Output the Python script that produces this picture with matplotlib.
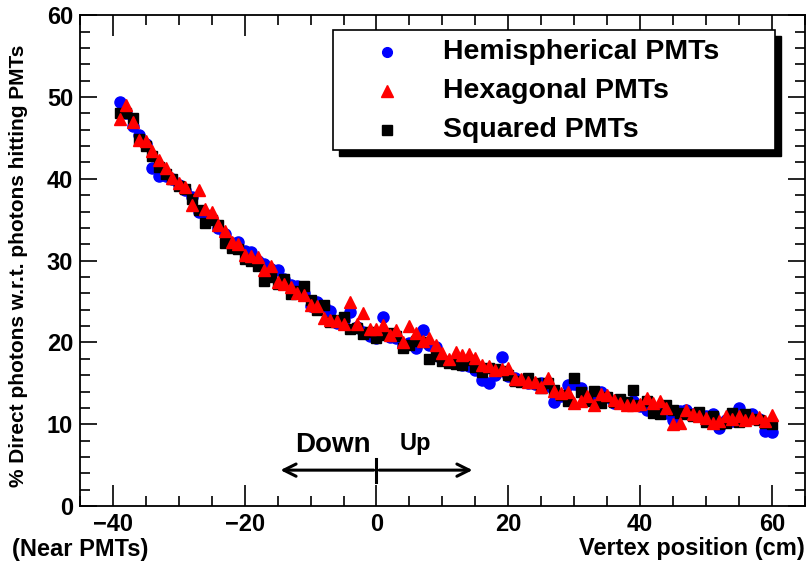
import matplotlib
matplotlib.use("Agg")
import matplotlib.pyplot as plt
from matplotlib.patches import Rectangle
from matplotlib.lines import Line2D
from matplotlib.ticker import MultipleLocator

plt.rcParams['font.family'] = ['Liberation Sans', 'DejaVu Sans']
plt.rcParams['font.weight'] = 'bold'

# vertex positions (cm), one point per cm
positions = list(range(-39, 61))

hemispherical = [
    49.4, 48.0, 46.5, 45.4, 44.2, 41.3, 40.4, 40.3, 40.0, 39.2,
    38.6, 37.8, 36.0, 35.7, 35.1, 34.0, 33.3, 32.1, 32.3, 31.2,
    31.0, 30.0, 29.6, 29.0, 28.8, 27.8, 27.0, 26.9, 26.0, 24.5,
    25.0, 24.4, 23.8, 22.4, 22.8, 23.7, 21.9, 21.3, 20.8, 20.6,
    23.1, 20.7, 20.5, 19.6, 19.9, 19.3, 21.5, 19.7, 19.4, 17.8,
    17.6, 17.8, 17.3, 17.1, 16.6, 15.4, 15.1, 16.0, 18.2, 15.9,
    15.6, 15.3, 15.0, 14.9, 15.1, 14.7, 12.7, 13.4, 14.8, 14.9,
    14.4, 13.2, 12.8, 13.9, 13.3, 12.6, 12.9, 12.3, 12.9, 12.2,
    11.7, 11.9, 11.8, 11.4, 10.5, 11.6, 11.8, 11.3, 11.4, 11.0,
    11.2, 9.6, 10.5, 10.4, 12.0, 10.7, 11.2, 10.6, 9.2, 9.0,
]

hexagonal = [
    47.3, 49.0, 47.0, 44.7, 44.6, 43.4, 42.3, 41.3, 40.1, 39.5,
    39.0, 36.8, 38.6, 36.3, 36.0, 34.3, 33.6, 32.3, 32.0, 30.7,
    30.6, 30.4, 28.8, 29.3, 27.4, 27.1, 26.8, 26.0, 25.8, 24.6,
    24.4, 23.0, 22.8, 22.6, 22.3, 24.9, 22.2, 23.6, 21.6, 21.6,
    22.1, 20.9, 21.5, 20.1, 22.0, 21.1, 20.2, 20.5, 19.7, 18.7,
    18.0, 18.8, 18.5, 18.6, 18.1, 17.2, 17.1, 16.6, 16.8, 16.9,
    15.5, 15.5, 15.2, 15.2, 14.6, 15.6, 14.1, 13.8, 13.9, 12.6,
    12.8, 13.4, 12.3, 13.7, 13.6, 13.0, 12.6, 12.4, 12.4, 12.5,
    13.2, 12.6, 12.8, 12.0, 10.0, 10.1, 11.7, 11.2, 11.0, 10.8,
    10.2, 10.4, 11.0, 10.6, 11.0, 10.5, 10.8, 10.9, 10.4, 11.1,
]

squared = [
    48.1, 48.1, 47.4, 44.9, 44.0, 42.8, 41.5, 40.6, 40.0, 39.1,
    38.8, 37.5, 36.2, 34.6, 35.0, 34.4, 32.2, 31.6, 31.4, 30.2,
    30.0, 29.3, 27.5, 28.0, 27.1, 27.8, 25.9, 26.3, 26.9, 25.2,
    24.0, 24.6, 22.5, 22.7, 23.1, 21.6, 21.8, 21.0, 21.3, 20.6,
    20.9, 21.2, 20.8, 19.3, 19.7, 20.2, 20.0, 18.0, 18.3, 17.7,
    17.5, 17.4, 17.2, 17.9, 17.0, 16.4, 16.9, 16.7, 16.5, 16.0,
    15.3, 15.2, 15.7, 15.0, 14.4, 15.0, 14.2, 13.6, 12.9, 15.6,
    14.0, 12.8, 14.1, 12.6, 13.3, 12.7, 13.1, 12.7, 14.2, 12.4,
    12.8, 11.4, 11.3, 12.3, 11.8, 11.4, 11.2, 11.0, 11.5, 10.3,
    11.0, 10.0, 10.2, 11.4, 10.3, 11.3, 10.7, 10.5, 10.2, 10.0,
]

err = 0.5

labels = ['Hemispherical PMTs', 'Hexagonal PMTs', 'Squared PMTs']
colors = ['blue', 'red', 'black']
markers = ['o', '^', 's']

fig = plt.figure(figsize=(8.08, 5.63), dpi=100)
ax = fig.add_axes([0.099, 0.101, 0.897, 0.872])

ax.errorbar(positions, hemispherical, yerr=err, fmt='o', color='blue', ms=8, elinewidth=1, capsize=0, zorder=3)
ax.errorbar(positions, squared, yerr=err, fmt='s', color='black', ms=7.5, elinewidth=1, capsize=0, zorder=4)
ax.errorbar(positions, hexagonal, yerr=err, fmt='^', color='red', ms=9, elinewidth=1, capsize=0, zorder=5)

ax.set_xlim(-45, 65)
ax.set_ylim(0, 60)
ax.xaxis.set_major_locator(MultipleLocator(20))
ax.xaxis.set_minor_locator(MultipleLocator(5))
ax.yaxis.set_major_locator(MultipleLocator(10))
ax.yaxis.set_minor_locator(MultipleLocator(2))
ax.tick_params(which='both', direction='in', top=True, right=True, width=1.2)
ax.tick_params(which='major', length=15, labelsize=17, pad=5)
ax.tick_params(which='minor', length=7)
ax.tick_params(axis='y', which='major', length=12)
for s in ax.spines.values():
    s.set_linewidth(1.3)

ax.set_ylabel('% Direct photons w.r.t. photons hitting PMTs', fontsize=15, fontweight='bold')
ax.yaxis.set_label_coords(-0.072, 0.49)
fig.text(0.996, 0.006, 'Vertex position (cm)', ha='right', va='bottom', fontsize=17)
fig.text(0.015, 0.004, '(Near PMTs)', ha='left', va='bottom', fontsize=17)

# Down / Up arrow
ax.annotate('', xy=(-15, 4.4), xytext=(0, 4.4),
            arrowprops=dict(arrowstyle='->', lw=2.2, color='black', mutation_scale=22))
ax.annotate('', xy=(15, 4.4), xytext=(0, 4.4),
            arrowprops=dict(arrowstyle='->', lw=2.2, color='black', mutation_scale=22))
ax.plot([0, 0], [2.9, 5.7], color='black', lw=2.2)
ax.text(-0.8, 7.5, 'Down', ha='right', va='center', fontsize=20)
ax.text(3.5, 7.7, 'Up', ha='left', va='center', fontsize=17)

# legend box with ROOT-style shadow
lx0, lx1 = 333 / 808, 775 / 808
ly1, ly0 = 1 - 30 / 563, 1 - 150 / 563
sdx, sdy = 6 / 808, 6 / 563
fig.patches.append(Rectangle((lx0 + sdx, ly0 - sdy), lx1 - lx0, ly1 - ly0,
                             transform=fig.transFigure, facecolor='black', edgecolor='black', zorder=10))
fig.patches.append(Rectangle((lx0, ly0), lx1 - lx0, ly1 - ly0,
                             transform=fig.transFigure, facecolor='white', edgecolor='black', lw=1.2, zorder=11))
row_y = [1 - 52 / 563, 1 - 91 / 563, 1 - 130 / 563]
for lab, c, m, yy in zip(labels, colors, markers, row_y):
    fig.lines.append(Line2D([387 / 808], [yy], marker=m, color=c, ms=7 if m != '^' else 8,
                            linestyle='none', transform=fig.transFigure, zorder=12))
    fig.text(443 / 808, yy, lab, ha='left', va='center', fontsize=20.5, zorder=12)

fig.savefig('out.png', dpi=100)
